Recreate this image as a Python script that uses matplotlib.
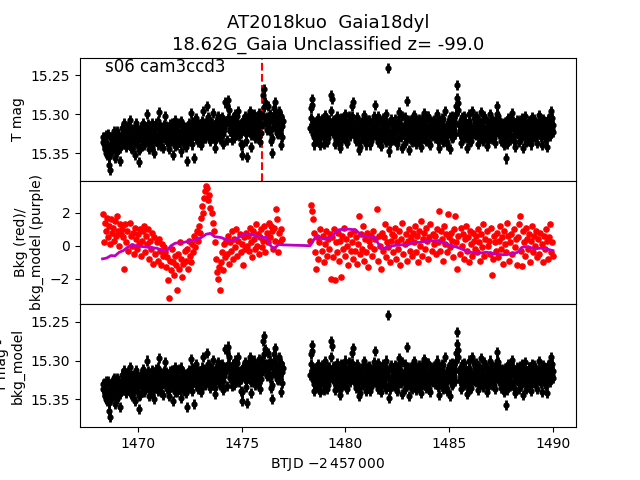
import numpy as np
import matplotlib
matplotlib.use('Agg')
import matplotlib.pyplot as plt

# light curve, first orbit (0.05 d cadence from 1468.30, plus the in-between frames from 1468.325)
t0_orbit1 = 1468.30
tmag1 = [15.330, 15.338, 15.345, 15.327, 15.352, 15.341, 15.365, 15.372, 15.348, 15.333, 15.325, 15.340, 15.356, 15.331, 15.322, 15.345, 15.338, 15.360, 15.329, 15.318,
         15.324, 15.312, 15.336, 15.342, 15.318, 15.331, 15.308, 15.327, 15.345, 15.335, 15.320, 15.352, 15.316, 15.338, 15.329, 15.362, 15.344, 15.322, 15.333, 15.311,
         15.340, 15.326, 15.317, 15.300, 15.331, 15.345, 15.322, 15.336, 15.312, 15.328, 15.350, 15.319, 15.334, 15.309, 15.297, 15.325, 15.341, 15.316, 15.330, 15.322,
         15.302, 15.318, 15.336, 15.327, 15.345, 15.313, 15.322, 15.331, 15.352, 15.317, 15.308, 15.329, 15.340, 15.324, 15.311, 15.336, 15.348, 15.320, 15.315, 15.330,
         15.342, 15.360, 15.325, 15.316, 15.333, 15.298, 15.310, 15.327, 15.356, 15.321, 15.305, 15.318, 15.336, 15.329, 15.314, 15.340, 15.309, 15.296, 15.323, 15.331,
         15.312, 15.290, 15.304, 15.326, 15.335, 15.317, 15.299, 15.321, 15.343, 15.310, 15.325, 15.302, 15.316, 15.332, 15.306, 15.320, 15.338, 15.313, 15.285, 15.309,
         15.288, 15.282, 15.295, 15.322, 15.314, 15.333, 15.305, 15.318, 15.300, 15.327, 15.311, 15.296, 15.320, 15.339, 15.352, 15.308, 15.316, 15.302, 15.326, 15.355,
         15.304, 15.318, 15.296, 15.342, 15.310, 15.325, 15.300, 15.331, 15.313, 15.307, 15.322, 15.298, 15.336, 15.311, 15.302, 15.275, 15.268, 15.305, 15.320, 15.290,
         15.318, 15.300, 15.335, 15.350, 15.305, 15.292, 15.284, 15.312, 15.324, 15.308, 15.296, 15.322, 15.340, 15.315]
tmag1b = [15.336, 15.329, 15.344, 15.350, 15.338, 15.326, 15.355, 15.342, 15.331, 15.347, 15.336, 15.322, 15.340, 15.349, 15.327, 15.335, 15.343, 15.330, 15.338, 15.325,
          15.333, 15.321, 15.340, 15.328, 15.315, 15.337, 15.325, 15.343, 15.319, 15.331, 15.339, 15.326, 15.312, 15.335, 15.322, 15.346, 15.330, 15.317, 15.341, 15.327,
          15.320, 15.334, 15.327, 15.313, 15.338, 15.322, 15.330, 15.342, 15.318, 15.326, 15.335, 15.311, 15.329, 15.339, 15.321, 15.316, 15.332, 15.325, 15.344, 15.314,
          15.328, 15.315, 15.331, 15.320, 15.338, 15.326, 15.312, 15.334, 15.322, 15.341, 15.318, 15.329, 15.314, 15.336, 15.325, 15.309, 15.331, 15.323, 15.339, 15.317,
          15.326, 15.318, 15.335, 15.312, 15.329, 15.320, 15.339, 15.315, 15.324, 15.308, 15.331, 15.321, 15.313, 15.327, 15.336, 15.317, 15.325, 15.311, 15.330, 15.319,
          15.314, 15.323, 15.306, 15.330, 15.318, 15.311, 15.327, 15.316, 15.335, 15.321, 15.309, 15.324, 15.313, 15.329, 15.318, 15.304, 15.326, 15.320, 15.312, 15.333,
          15.305, 15.312, 15.321, 15.308, 15.326, 15.315, 15.331, 15.310, 15.322, 15.303, 15.318, 15.328, 15.313, 15.324, 15.340, 15.316, 15.307, 15.321, 15.334, 15.311,
          15.312, 15.305, 15.320, 15.327, 15.301, 15.316, 15.323, 15.309, 15.318, 15.330, 15.306, 15.315, 15.324, 15.300, 15.313, 15.291, 15.285, 15.311, 15.304, 15.319,
          15.310, 15.322, 15.306, 15.331, 15.316, 15.301, 15.298, 15.318, 15.307, 15.325, 15.312, 15.303, 15.329, 15.309]

bkg1 = [1.9, 0.2, 1.4, 0.9, 1.7, 0.5, 1.2, 0.1, 1.6, 0.8, 1.1, 0.3, 1.5, 0.6, 1.8, 0.9, 0.0, 1.3, 0.7, 1.0,
        0.5, -1.4, 1.3, 0.2, 0.9, -0.3, 1.4, 0.6, 0.0, 0.8, -0.5, 1.1, 0.4, -0.2, 0.7, 0.1, 1.0, -0.6, 0.3, 0.9,
        1.2, -0.4, 0.6, 0.1, 1.0, -0.8, 0.3, -0.2, 0.8, -1.1, 0.5, -0.5, 0.2, -0.9, 0.4, -0.3, -1.2, 0.1, -0.6, -0.1,
        -0.4, -1.3, -0.7, -2.1, -3.2, -0.9, -1.5, -0.2, -1.0, -1.8, -0.6, -1.2, -2.7, -0.5, -1.4, 0.2, -0.8, -1.9, -1.1, -0.3,
        -0.9, -0.2, -1.4, 0.3, -0.6, -1.0, 0.1, -0.4, 0.6, -0.1, 0.4, 0.9, 0.3, 1.2, 0.8, 1.7, 2.4, 2.0, 2.9, 3.3,
        3.6, 3.5, 2.8, 3.1, 2.3, 2.0, 1.4, 0.9, 0.2, -0.8, -1.6, -2.0, -1.3, -2.7, -1.0, -0.4, -1.5, 0.1, -0.7, 0.3,
        -0.5, 0.6, -1.1, 0.2, -0.3, 0.9, -0.8, 0.4, -0.1, 1.0, -0.6, 0.3, 0.7, -0.4, 0.1, -1.2, 0.5, -0.2, 0.8, 0.0,
        0.6, -0.3, 1.1, 0.2, -0.7, 0.9, 0.4, -0.2, 1.3, 0.0, 0.7, -0.5, 0.5, 1.0, -0.1, 0.3, 1.2, -0.4, 0.8, 0.2,
        1.4, 0.5, 1.2, 0.9, -0.2, 1.1, 0.3, 2.2, 1.6, -0.4, 0.8, 0.2, 1.0, 0.4]

# second orbit (0.05 d cadence from 1478.30, plus in-between frames from 1478.325)
t0_orbit2 = 1478.30
tmag2 = [15.318, 15.292, 15.280, 15.325, 15.339, 15.310, 15.322, 15.334, 15.305, 15.316, 15.340, 15.327, 15.312, 15.330, 15.301, 15.319, 15.336, 15.308, 15.323, 15.314,
         15.275, 15.281, 15.309, 15.326, 15.338, 15.317, 15.303, 15.329, 15.312, 15.344, 15.321, 15.306, 15.331, 15.315, 15.300, 15.324, 15.337, 15.311, 15.320, 15.308,
         15.290, 15.284, 15.316, 15.327, 15.335, 15.304, 15.319, 15.346, 15.342, 15.310, 15.325, 15.332, 15.301, 15.318, 15.339, 15.313, 15.326, 15.307, 15.322, 15.334,
         15.312, 15.327, 15.302, 15.288, 15.319, 15.336, 15.309, 15.324, 15.341, 15.316, 15.305, 15.330, 15.321, 15.300, 15.315, 15.241, 15.348, 15.337, 15.310, 15.326,
         15.318, 15.333, 15.306, 15.322, 15.339, 15.311, 15.297, 15.328, 15.315, 15.343, 15.320, 15.304, 15.331, 15.283, 15.312, 15.346, 15.325, 15.308, 15.336, 15.317,
         15.301, 15.324, 15.338, 15.313, 15.327, 15.306, 15.319, 15.342, 15.330, 15.310, 15.298, 15.321, 15.335, 15.316, 15.303, 15.326, 15.340, 15.312, 15.323, 15.307,
         15.330, 15.318, 15.300, 15.327, 15.344, 15.313, 15.322, 15.305, 15.336, 15.319, 15.296, 15.328, 15.339, 15.311, 15.324, 15.345, 15.316, 15.303, 15.329, 15.320,
         15.312, 15.290, 15.263, 15.286, 15.326, 15.337, 15.304, 15.318, 15.331, 15.309, 15.322, 15.343, 15.315, 15.300, 15.328, 15.335, 15.296, 15.319, 15.326, 15.310,
         15.303, 15.324, 15.338, 15.316, 15.329, 15.297, 15.312, 15.334, 15.321, 15.306, 15.341, 15.318, 15.325, 15.300, 15.313, 15.332, 15.322, 15.309, 15.337, 15.315,
         15.289, 15.302, 15.326, 15.319, 15.335, 15.311, 15.324, 15.340, 15.310, 15.357, 15.329, 15.305, 15.318, 15.333, 15.314, 15.299, 15.327, 15.342, 15.316, 15.308,
         15.321, 15.336, 15.307, 15.315, 15.328, 15.344, 15.312, 15.302, 15.325, 15.318, 15.334, 15.309, 15.320, 15.339, 15.304, 15.316, 15.329, 15.311, 15.323, 15.337,
         15.313, 15.301, 15.326, 15.340, 15.318, 15.309, 15.330, 15.321, 15.342, 15.306, 15.317, 15.328, 15.296, 15.305, 15.323]
tmag2b = [15.305, 15.288, 15.312, 15.330, 15.318, 15.326, 15.309, 15.321, 15.335, 15.314, 15.327, 15.306, 15.320, 15.338, 15.311, 15.324, 15.316, 15.331, 15.308, 15.322,
          15.296, 15.313, 15.324, 15.307, 15.333, 15.319, 15.312, 15.326, 15.338, 15.305, 15.317, 15.329, 15.321, 15.309, 15.334, 15.315, 15.323, 15.302, 15.328, 15.318,
          15.303, 15.311, 15.325, 15.318, 15.332, 15.309, 15.327, 15.336, 15.320, 15.314, 15.329, 15.306, 15.322, 15.317, 15.331, 15.308, 15.324, 15.339, 15.313, 15.321,
          15.319, 15.308, 15.326, 15.314, 15.331, 15.303, 15.322, 15.335, 15.311, 15.328, 15.317, 15.309, 15.324, 15.336, 15.312, 15.320, 15.330, 15.306, 15.323, 15.315,
          15.325, 15.310, 15.318, 15.333, 15.307, 15.321, 15.314, 15.329, 15.302, 15.326, 15.317, 15.337, 15.311, 15.323, 15.308, 15.331, 15.319, 15.313, 15.327, 15.304,
          15.316, 15.329, 15.308, 15.322, 15.335, 15.313, 15.325, 15.306, 15.319, 15.332, 15.311, 15.326, 15.303, 15.320, 15.337, 15.315, 15.309, 15.328, 15.318, 15.324,
          15.312, 15.325, 15.317, 15.334, 15.308, 15.321, 15.329, 15.313, 15.306, 15.327, 15.319, 15.336, 15.311, 15.323, 15.304, 15.316, 15.331, 15.322, 15.309, 15.326,
          15.300, 15.279, 15.295, 15.314, 15.322, 15.308, 15.329, 15.317, 15.303, 15.325, 15.313, 15.331, 15.320, 15.309, 15.336, 15.316, 15.324, 15.305, 15.318, 15.327,
          15.314, 15.306, 15.321, 15.330, 15.311, 15.325, 15.317, 15.302, 15.328, 15.319, 15.309, 15.334, 15.322, 15.313, 15.326, 15.307, 15.318, 15.331, 15.310, 15.323,
          15.300, 15.315, 15.308, 15.327, 15.320, 15.313, 15.332, 15.324, 15.318, 15.338, 15.311, 15.322, 15.306, 15.329, 15.316, 15.309, 15.335, 15.321, 15.312, 15.326,
          15.310, 15.323, 15.316, 15.331, 15.305, 15.320, 15.327, 15.313, 15.336, 15.318, 15.309, 15.325, 15.332, 15.314, 15.321, 15.306, 15.319, 15.328, 15.312, 15.324,
          15.320, 15.312, 15.329, 15.315, 15.306, 15.324, 15.318, 15.333, 15.310, 15.322, 15.305, 15.316, 15.311, 15.319, 15.314]

bkg2 = [0.3, 2.5, 2.1, 1.6, 0.8, -0.4, -1.4, 0.5, -0.8, 0.2, 1.0, -0.3, 0.6, -1.0, 0.1, 0.9, -0.6, 0.4, -0.2, 0.7,
        -2.0, 0.5, -0.7, 1.0, -2.1, 0.2, -0.4, 0.8, -0.9, 0.3, -1.9, 0.6, -0.2, 1.1, -0.6, 0.4, 0.0, -1.2, 0.7, -0.3,
        0.2, -0.8, 0.9, -0.3, 0.5, -1.1, 0.1, 1.8, -0.5, 0.7, -0.2, 1.2, -0.9, 0.4, -0.4, 0.8, -1.3, 0.3, 0.0, 0.6,
        -0.6, 0.9, -0.2, 0.4, 2.2, -0.9, 0.6, 0.0, -1.4, 0.8, -0.3, 0.5, 1.3, -0.7, 0.2, -0.1, 1.0, -1.0, 0.3, 0.7,
        -0.4, 0.6, 1.1, -0.8, 0.2, -0.2, 0.9, -1.2, 0.4, 1.4, -0.5, 0.1, 0.7, -0.9, 0.3, 1.0, -0.3, 0.5, -0.6, 0.8,
        0.2, 1.2, -0.4, 0.6, -1.0, 0.9, 0.0, 1.5, -0.6, 0.4, 0.8, -0.2, 1.1, 0.3, -0.8, 0.5, 1.3, -0.3, 0.7, 0.1,
        0.6, -0.5, 1.0, 0.2, 2.1, -0.3, 0.9, 0.4, -0.9, 1.2, 0.1, 0.7, -0.4, 1.9, 0.5, -0.1, 0.8, 0.3, -0.7, 1.0,
        1.8, 0.2, -1.4, 0.6, -0.5, 1.1, 0.0, 0.7, -0.8, 0.4, 1.2, -0.3, 0.5, -1.0, 0.9, 0.1, -0.6, 0.8, 0.3, -0.2,
        0.6, -0.4, 1.0, 0.2, -0.9, 0.7, -0.1, 1.3, -0.6, 0.4, 0.9, 0.0, 0.3, -0.5, 1.1, -1.8, -0.8, 0.6, 0.2, -0.3,
        0.8, -0.7, 0.3, 1.2, -0.2, 0.5, -1.1, 0.9, 0.1, -0.4, 1.4, 0.6, -0.9, 0.2, 0.7, -0.5, 1.0, -0.1, 0.4, -1.2,
        0.5, 1.3, 1.8, -0.3, -1.25, 0.9, 0.2, -0.6, 1.1, 0.4, -0.2, 0.7, -1.0, 0.3, 1.2, -0.4, 0.6, 0.0, 0.9, -0.7,
        0.4, -0.5, 0.8, 0.1, -1.0, 0.6, -0.2, 1.0, 0.3, -0.8, 0.5, 1.3, -0.4, 0.2, -0.6]

# smoothed background model
model_t = [1468.30, 1468.50, 1468.70, 1468.90, 1469.10, 1469.30, 1469.50, 1469.70, 1469.90, 1470.20,
           1470.50, 1470.90, 1471.20, 1471.40, 1471.60, 1471.80, 1472.20, 1472.60, 1473.00, 1473.30,
           1473.50, 1473.70, 1474.00, 1474.30, 1474.60, 1474.90, 1475.10, 1475.40, 1475.70, 1476.00,
           1476.20, 1476.40, 1476.55, 1476.80, 1476.95, 1478.30, 1478.45, 1478.60, 1478.80, 1479.00,
           1479.20, 1479.40, 1479.60, 1479.90, 1480.20, 1480.50, 1480.80, 1481.10, 1481.40, 1481.60,
           1481.75, 1482.00, 1482.30, 1482.60, 1483.00, 1483.30, 1483.60, 1484.00, 1484.40, 1484.80,
           1485.10, 1485.40, 1485.70, 1486.00, 1486.40, 1486.80, 1487.20, 1487.60, 1488.00, 1488.30,
           1488.50, 1488.80, 1489.10, 1489.40, 1489.70, 1490.00]
model_bkg = [-0.80, -0.75, -0.60, -0.62, -0.40, -0.30, -0.10, 0.05, 0.00, -0.05,
             -0.10, -0.15, -0.28, -0.30, 0.00, 0.15, 0.20, 0.30, 0.45, 0.70,
             0.75, 0.55, 0.50, 0.35, 0.30, 0.55, 0.70, 0.70, 0.60, 0.50,
             0.50, 0.00, -0.20, 0.10, 0.05, 0.00, 0.30, 0.60, 0.45, 0.40,
             0.45, 0.60, 0.95, 1.00, 1.00, 0.95, 0.60, 0.55, 0.50, 0.10,
             -0.20, -0.10, 0.00, 0.05, 0.05, 0.20, 0.20, 0.30, 0.30, 0.15,
             0.00, -0.10, -0.25, -0.40, -0.45, -0.40, -0.50, -0.55, -0.50, -0.40,
             -0.10, -0.05, -0.20, -0.15, -0.20, -0.30]

tmag_err = 0.0065
peak_time = 1476.0

t_a = np.concatenate([t0_orbit1 + 0.05*np.arange(len(tmag1)), t0_orbit2 + 0.05*np.arange(len(tmag2))])
t_b = np.concatenate([t0_orbit1 + 0.025 + 0.05*np.arange(len(tmag1b)), t0_orbit2 + 0.025 + 0.05*np.arange(len(tmag2b))])
t = np.concatenate([t_a, t_b])
tmag = np.array(tmag1 + tmag2 + tmag1b + tmag2b)
bkg = np.array(bkg1 + bkg2)

fig, axes = plt.subplots(3, 1, sharex = True, figsize = (6.4, 4.8))
plt.subplots_adjust(hspace = 0)

ax = axes[0]
ax.errorbar(t, tmag, yerr = tmag_err, fmt = 'o', ms = 3.5, color = 'k', elinewidth = 2)
ax.axvline(peak_time, color = 'r', ls = '--', lw = 1.5)
ax.invert_yaxis()
ax.set_ylabel('T mag')
ax.set_title('AT2018kuo  Gaia18dyl\n18.62G_Gaia Unclassified z= -99.0', fontsize = 13)
ax.text(0.05, 0.886, 's06 cam3ccd3', transform = ax.transAxes, fontsize = 12)

ax = axes[1]
ax.plot(t_a, bkg, 'r.', ms = 7.5)
ax.plot(model_t, model_bkg, color = 'm', lw = 2)
ax.set_ylabel('Bkg (red)/\nbkg_model (purple)')

ax = axes[2]
ax.errorbar(t, tmag, yerr = tmag_err, fmt = 'o', ms = 3.5, color = 'k', elinewidth = 2)
ax.invert_yaxis()
ax.set_ylabel('T mag -\nbkg_model')
ax.set_xlabel(r'BTJD $-2\,457\,000$')

fig.savefig('out.png', dpi = 100)
